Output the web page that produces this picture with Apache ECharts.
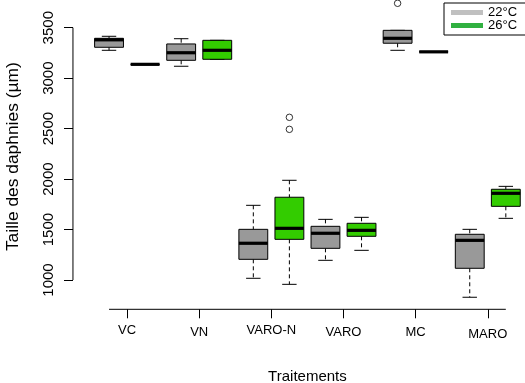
<!DOCTYPE html>
<html>
<head>
<meta charset="utf-8">
<script src="https://cdn.jsdelivr.net/npm/echarts@6/dist/echarts.min.js"></script>
<style>
html,body{margin:0;padding:0;background:#fff;}
#chart{width:525px;height:383px;}
</style>
</head>
<body>
<div id="chart"></div>
<script>
// ---- data ----
const categories = ['VC', 'VN', 'VARO-N', 'VARO', 'MC', 'MARO'];
const temperatures = ['22°C', '26°C'];
// [whisker low, Q1, median, Q3, whisker high]
const box22 = [
  [3276, 3306, 3380, 3395, 3415],
  [3118, 3177, 3252, 3339, 3391],
  [1017, 1205, 1364, 1502, 1740],
  [1195, 1314, 1463, 1532, 1601],
  [3276, 3346, 3395, 3474, 3474],
  [829, 1116, 1393, 1453, 1502]
];
const box26 = [
  [3137, 3137, 3137, 3137, 3137],
  [3187, 3187, 3276, 3375, 3375],
  [957, 1403, 1512, 1820, 1988],
  [1294, 1433, 1492, 1562, 1621],
  [3261, 3261, 3261, 3261, 3261],
  [1611, 1730, 1859, 1899, 1928]
];
// [category index, value]
const outliers22 = [[4, 3742]];
const outliers26 = [[2, 2612], [2, 2493]];
const yTicks = [1000, 1500, 2000, 2500, 3000, 3500];
const labelShift = ['a', 'b', 'a', 'b', 'b', 'c'];

// ---- build ----
const FONT = 'Liberation Sans';
const Y_MIN = 709.7, Y_MAX = 3734.9;
const pos = (ci, ti) => ci * 2 + 1 + ti;
const boxData = (arr, ti) => arr.map((v, ci) => [pos(ci, ti)].concat(v));
const outData = (arr, ti) => arr.map(o => [pos(o[0], ti), o[1]]);
const catTicks = categories.map((c, i) => i * 2 + 1.5);

function makeRender(fill) {
  return function (params, api) {
    const p = api.value(0);
    const lo = api.value(1), q1 = api.value(2), med = api.value(3), q3 = api.value(4), hi = api.value(5);
    const x = api.coord([p, med])[0];
    const y = v => api.coord([p, v])[1];
    const hw = api.size([0.4, 0])[0];
    const cw = api.size([0.2, 0])[0];
    const ch = [];
    const dash = { stroke: '#000', lineWidth: 1, lineDash: [4, 3], fill: null };
    const solid = { stroke: '#000', lineWidth: 1, fill: null };
    if (hi > q3) ch.push({ type: 'line', shape: { x1: x, y1: y(hi), x2: x, y2: y(q3) }, style: dash });
    if (lo < q1) ch.push({ type: 'line', shape: { x1: x, y1: y(q1), x2: x, y2: y(lo) }, style: dash });
    ch.push({ type: 'line', shape: { x1: x - cw, y1: y(hi), x2: x + cw, y2: y(hi) }, style: solid });
    ch.push({ type: 'line', shape: { x1: x - cw, y1: y(lo), x2: x + cw, y2: y(lo) }, style: solid });
    ch.push({ type: 'rect', shape: { x: x - hw, y: y(q3), width: 2 * hw, height: y(q1) - y(q3) },
      style: { fill: fill, stroke: '#000', lineWidth: 1 } });
    ch.push({ type: 'line', shape: { x1: x - hw, y1: y(med), x2: x + hw, y2: y(med) },
      style: { stroke: '#000', lineWidth: 3.2, fill: null } });
    return { type: 'group', children: ch };
  };
}

const option = {
  animation: false,
  textStyle: { fontFamily: FONT },
  grid: { left: 91, right: 1.15, top: 4, bottom: 73.7, containLabel: false, outerBoundsMode: 'none' },
  legend: {
    data: temperatures,
    orient: 'vertical',
    left: 444, top: 3,
    padding: [3, 11, 3, 7],
    itemGap: 0,
    itemWidth: 32, itemHeight: 5,
    itemTextGap: 3,
    icon: 'rect',
    borderColor: '#000', borderWidth: 1, backgroundColor: '#fff',
    textStyle: { fontSize: 13, color: '#000', fontFamily: FONT, lineHeight: 13 }
  },
  xAxis: {
    type: 'value', min: 0.5, max: 12.5,
    name: 'Traitements', nameLocation: 'middle', nameGap: 60,
    nameTextStyle: { fontSize: 15, color: '#000', fontFamily: FONT },
    axisLine: { show: false },
    splitLine: { show: false },
    axisTick: { show: true, customValues: catTicks, length: 9, lineStyle: { color: '#000', width: 1 } },
    axisLabel: {
      customValues: catTicks, margin: 15,
      formatter: v => {
        const i = Math.round((v - 1.5) / 2);
        return '{' + labelShift[i] + '|' + categories[i] + '}';
      },
      rich: {
        a: { fontSize: 13, color: '#000', fontFamily: FONT, padding: [0, 0, 0, 0] },
        b: { fontSize: 13, color: '#000', fontFamily: FONT, padding: [2, 0, 0, 0] },
        c: { fontSize: 13, color: '#000', fontFamily: FONT, padding: [4, 0, 0, 0] }
      }
    }
  },
  yAxis: {
    type: 'value', min: Y_MIN, max: Y_MAX, offset: 18,
    name: 'Taille des daphnies (µm)', nameLocation: 'middle', nameGap: 51, nameRotate: 90,
    nameTextStyle: { fontSize: 17.4, color: '#000', fontFamily: FONT },
    axisLine: { show: false },
    splitLine: { show: false },
    axisTick: { show: true, customValues: yTicks, length: 9, lineStyle: { color: '#000', width: 1 } },
    axisLabel: { customValues: yTicks, rotate: 90, margin: 17, fontSize: 15, color: '#000', fontFamily: FONT,
      formatter: v => String(v) }
  },
  series: [
    {
      name: 'axes', type: 'custom', silent: true, data: [[0]], clip: false,
      renderItem: function (params, api) {
        const a = api.coord([0, yTicks[0]]), b = api.coord([0, yTicks[yTicks.length - 1]]);
        const c = api.coord([1, Y_MIN]), d = api.coord([12, Y_MIN]);
        return { type: 'group', children: [
          { type: 'line', shape: { x1: a[0], y1: a[1], x2: b[0], y2: b[1] }, style: { stroke: '#000', lineWidth: 1 } },
          { type: 'line', shape: { x1: c[0], y1: c[1], x2: d[0], y2: d[1] }, style: { stroke: '#000', lineWidth: 1 } }
        ] };
      }
    },
    {
      name: temperatures[0], type: 'custom', data: boxData(box22, 0), clip: false,
      itemStyle: { color: '#c0c0c0' },
      encode: { x: 0, y: [1, 2, 3, 4, 5] },
      renderItem: makeRender('#999999')
    },
    {
      name: temperatures[1], type: 'custom', data: boxData(box26, 1), clip: false,
      itemStyle: { color: '#30b040' },
      encode: { x: 0, y: [1, 2, 3, 4, 5] },
      renderItem: makeRender('#33cc00')
    },
    {
      name: 'out22', type: 'scatter', data: outData(outliers22, 0), clip: false,
      symbol: 'circle', symbolSize: 6.5,
      itemStyle: { color: 'rgba(0,0,0,0)', borderColor: '#000', borderWidth: 1 }
    },
    {
      name: 'out26', type: 'scatter', data: outData(outliers26, 1), clip: false,
      symbol: 'circle', symbolSize: 6.5,
      itemStyle: { color: 'rgba(0,0,0,0)', borderColor: '#000', borderWidth: 1 }
    }
  ]
};

const chart = echarts.init(document.getElementById('chart'), null, { renderer: 'canvas' });
chart.setOption(option);
</script>
</body>
</html>
